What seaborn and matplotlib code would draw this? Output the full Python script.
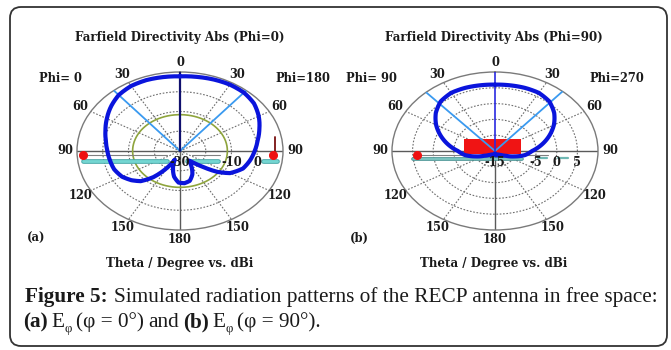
import numpy as np
import matplotlib
matplotlib.use("Agg")
import matplotlib.pyplot as plt
import seaborn as sns
from matplotlib.patches import FancyBboxPatch, Rectangle
from matplotlib.lines import Line2D
from matplotlib.transforms import offset_copy, IdentityTransform

# ---------------- data ----------------
angles_a = [0, 10, 20, 30, 40, 50, 60, 70, 80, 90, 100, 110, 120, 126, 132, 138, 144, 150,
            158, 166, 174, 182, 190, 198, 205, 212, 218, 225, 232, 240, 250, 260, 270, 280,
            290, 300, 310, 320, 330, 340, 350, 360]
dbi_a = [7.8, 8.1, 8.5, 8.8, 8.6, 7.5, 5.3, 2.8, 0.6, -1.0, -2.4, -4.0, -7.6, -12.0, -18.0,
         -22.0, -24.0, -21.2, -17.2, -14.4, -13.6, -14.0, -16.8, -21.2, -25.2, -18.8, -13.2,
         -8.4, -6.0, -4.0, -2.8, -2.4, -1.8, -0.8, 0.8, 2.8, 5.0, 7.0, 8.0, 8.2, 8.0, 7.8]

angles_b = [0, 10, 20, 30, 40, 50, 60, 70, 80, 90, 100, 110, 120, 130, 140, 150, 160, 170, 180,
            190, 200, 210, 220, 230, 240, 250, 260, 270, 280, 290, 300, 310, 320, 330, 340, 350, 360]
dbi_b = [6.0, 6.1, 6.25, 6.25, 5.5, 3.75, 1.5, -1.0, -3.5, -6.0, -7.6, -10.0, -12.0, -13.0,
         -13.5, -13.75, -13.5, -13.75, -14.25, -13.75, -13.5, -13.75, -13.5, -13.0, -12.0,
         -10.0, -7.6, -6.0, -3.5, -1.0, 1.5, 3.75, 5.5, 6.25, 6.25, 6.1, 6.0]

theta_tick_angles = [0, 30, 60, 90, 120, 150, 180, 210, 240, 270, 300, 330]
theta_tick_labels = ["0", "30", "60", "90", "120", "150", "180", "150", "120", "90", "60", "30"]

r_range_a = (-30, 10)
rings_a = [-20, -10, 0]
rlabels_a = [-30, -10, 0]
green_ring_a = -11.6
beam_a = [40, 320]

r_range_b = (-15, 10)
rings_b = [-10, -5, 0, 5]
rlabels_b = [-15, -5, 0, 5]
beam_b = [41, 318]

titles = ["Farfield Directivity Abs (Phi=0)", "Farfield Directivity Abs (Phi=90)"]
phi_left = ["Phi= 0", "Phi= 90"]
phi_right = ["Phi=180", "Phi=270"]
panel_tags = ["(a)", "(b)"]
xlabel = "Theta / Degree vs. dBi"

# ---------------- figure ----------------
sns.set_theme(style="white")
plt.rcParams["font.family"] = ["Liberation Serif", "DejaVu Serif"]

W, H = 671, 350
fig = plt.figure(figsize=(W / 100, H / 100), dpi=100)
fig.patch.set_facecolor("white")


def fx(px):
    return px / W


def fy(py):
    return 1 - py / H


BLUE = "#0a14dc"
GRID = "#6e6e6e"
PFONT = ["DejaVu Serif"]
LBL = dict(fontsize=8.3, fontweight="bold", color="#1a1a1a", family=PFONT)


def make_polar(cx, cy, rx, ry):
    ax = fig.add_axes([fx(cx - rx), fy(cy + ry), 2 * rx / W, 2 * ry / H], projection="polar")
    ax.set_aspect("auto")
    ax.set_facecolor("white")
    return ax


def setup(ax, rr, rings, rlabels):
    rmin, rmax = rr
    ax.set_theta_zero_location("N")
    ax.set_theta_direction(-1)
    ax.set_ylim(rmin, rmax)
    ax.set_xticks([])
    ax.set_yticks(rings)
    ax.set_yticklabels([])
    ax.grid(False)
    ax.yaxis.grid(True, linestyle=(0, (1.5, 1.5)), color=GRID, lw=0.8)
    ax.spines["polar"].set_color("#7a7a7a")
    ax.spines["polar"].set_linewidth(1.0)
    for a in [30, 60, 120, 150, 210, 240, 300, 330]:
        ax.plot([np.deg2rad(a)] * 2, [rmin, rmax], ls=(0, (1.5, 1.5)), color=GRID, lw=0.8, zorder=1)
    for a in [90, 180, 270]:
        ax.plot([np.deg2rad(a)] * 2, [rmin, rmax], color="#5a5a5a", lw=1.0, zorder=1)
    rt = rmin + 1.115 * (rmax - rmin)
    for a, lab in zip(theta_tick_angles, theta_tick_labels):
        ax.text(np.deg2rad(a), rt, lab, ha="center", va="center", **LBL)
    tr = offset_copy(ax.transData, fig=fig, x=0, y=-11, units="dots")
    for v in rlabels:
        ax.text(np.deg2rad(90), v, str(v), transform=tr, ha="center", va="center", zorder=6, **LBL)


def hline(ax, ox, oy, rx, ry, x0, x1, y, **kw):
    ax.add_line(Line2D([(x0 - ox) / (2 * rx), (x1 - ox) / (2 * rx)],
                       [(oy - y) / (2 * ry), (oy - y) / (2 * ry)],
                       transform=ax.transAxes, clip_on=False, **kw))


def pattern(ax, ang, vals):
    n0 = len(ax.lines)
    sns.lineplot(x=np.deg2rad(ang), y=vals, ax=ax, sort=False, color=BLUE, lw=3.0,
                 zorder=5, estimator=None)
    for ln in ax.lines[n0:]:
        ln.get_path()._interpolation_steps = 12
    ax.set_xlabel("")
    ax.set_ylabel("")


# ----- panel (a) -----
cxa, cya, rx, ry = 180, 151, 103, 79
axA = make_polar(cxa, cya, rx, ry)
setup(axA, r_range_a, rings_a, rlabels_a)
th = np.deg2rad(np.linspace(0, 360, 361))
axA.plot(th, np.full_like(th, green_ring_a), color="#8ea43c", lw=1.2, zorder=2)
for a in beam_a:
    axA.plot([np.deg2rad(a)] * 2, list(r_range_a), color="#3a9af0", lw=1.3, zorder=3)
axA.plot([0, 0], list(r_range_a), color="#10106e", lw=1.6, zorder=3)
pattern(axA, angles_a, dbi_a)
ox, oy = cxa - rx, cya + ry
hline(axA, ox, oy, rx, ry, 80, 167, 155, color="#808080", lw=0.8, zorder=4)
hline(axA, ox, oy, rx, ry, 192, 220, 155, color="#808080", lw=0.8, zorder=4)
for x0, x1 in [(83, 167), (187, 218), (263, 277)]:
    hline(axA, ox, oy, rx, ry, x0, x1, 160.5, color="#4aa9a9", lw=3.4, zorder=4)
    hline(axA, ox, oy, rx, ry, x0, x1, 160.5, color="#74d6d2", lw=2.0, zorder=4)
axA.add_line(Line2D([(275 - ox) / (2 * rx)] * 2, [(oy - 137) / (2 * ry), (oy - 155) / (2 * ry)],
                    transform=axA.transAxes, color="#7a1010", lw=1.3, zorder=4))
for x in [83, 273]:
    axA.add_line(Line2D([(x - ox) / (2 * rx)], [(oy - 155) / (2 * ry)], transform=axA.transAxes,
                        marker="o", ms=5.5, color="#ee1111", ls="none", zorder=6, clip_on=False))

# ----- panel (b) -----
cxb, cyb = 495, 151
axB = make_polar(cxb, cyb, rx, ry)
setup(axB, r_range_b, rings_b, rlabels_b)
for a in beam_b:
    axB.plot([np.deg2rad(a)] * 2, list(r_range_b), color="#3a9af0", lw=1.3, zorder=3)
axB.plot([0, 0], list(r_range_b), color="#2a2ae0", lw=1.2, zorder=3)
ox, oy = cxb - rx, cyb + ry
axB.add_patch(Rectangle(((464 - ox) / (2 * rx), (oy - 154) / (2 * ry)), 57 / (2 * rx), 15 / (2 * ry),
                        transform=axB.transAxes, facecolor="#f01414", edgecolor="none", zorder=2.5))
pattern(axB, angles_b, dbi_b)
hline(axB, ox, oy, rx, ry, 413, 548, 155, color="#808080", lw=0.8, zorder=4)
hline(axB, ox, oy, rx, ry, 413, 522, 159, color="#3f8f8f", lw=2.6, zorder=4)
hline(axB, ox, oy, rx, ry, 413, 522, 159, color="#7cc4c0", lw=1.4, zorder=4)
for x0, x1 in [(538, 547), (558, 568)]:
    hline(axB, ox, oy, rx, ry, x0, x1, 157.5, color="#6fb8b4", lw=1.6, zorder=4)
axB.add_line(Line2D([(417 - ox) / (2 * rx)], [(oy - 155) / (2 * ry)], transform=axB.transAxes,
                    marker="o", ms=5.5, color="#ee1111", ls="none", zorder=6, clip_on=False))

# ----- panel texts -----
TTL = dict(fontsize=8.6, fontweight="bold", color="#1a1a1a", family=PFONT)
for cx, ttl, pl, pr, tag, tagx, plx, prx in [
    (180, titles[0], phi_left[0], phi_right[0], panel_tags[0], 36, 60, 303),
    (494, titles[1], phi_left[1], phi_right[1], panel_tags[1], 359, 371, 617)]:
    fig.text(fx(cx), fy(37), ttl, ha="center", va="center", **TTL)
    fig.text(fx(plx), fy(79), pl, ha="center", va="center", **LBL)
    fig.text(fx(prx), fy(79), pr, ha="center", va="center", **LBL)
    fig.text(fx(tagx), fy(238), tag, ha="center", va="center", **LBL)
    fig.text(fx(cx), fy(263), xlabel, ha="center", va="center", **TTL)

# ----- caption -----
renderer = fig.canvas.get_renderer()


def runs(x, y, items, base, sp_em):
    made = []
    for txt, bold, rel, dy, gap in items:
        size = base * rel
        t = fig.text(fx(x), fy(y + dy), txt, fontsize=size, fontweight="bold" if bold else "normal",
                     ha="left", va="baseline", color="#1a1a1a")
        made.append(t)
        x += t.get_window_extent(renderer).width + gap * sp_em * base * 100 / 72
    return x, made


line1 = [("Figure 5:", True, 1.0, 0, 1),
         ("Simulated radiation patterns of the RECP antenna in free space:", False, 1.0, 0, 0)]
end, made = runs(25, 302, line1, 14.5, 0.3)
for t in made:
    t.remove()
CAP = 14.5 * (655 - 25) / (end - 25)
runs(25, 302, line1, CAP, 0.3)
runs(23, 327, [("(a)", True, 1.0, 0, 1), ("E", False, 1.0, 0, 0), ("φ", False, 0.6, 5, 0.8),
               ("(φ = 0°)", False, 1.0, 0, 1), ("and", False, 1.0, 0, 1), ("(b)", True, 1.0, 0, 1),
               ("E", False, 1.0, 0, 0), ("φ", False, 0.6, 5, 0.8), ("(φ = 90°).", False, 1.0, 0, 0)],
     CAP, 0.2)

# ----- border -----
fig.add_artist(FancyBboxPatch((10, 4), 657, 339, boxstyle="round,pad=0,rounding_size=11",
                              transform=IdentityTransform(), facecolor="none",
                              edgecolor="#333333", lw=1.3))

fig.savefig("out.png", dpi=100, facecolor="white")
